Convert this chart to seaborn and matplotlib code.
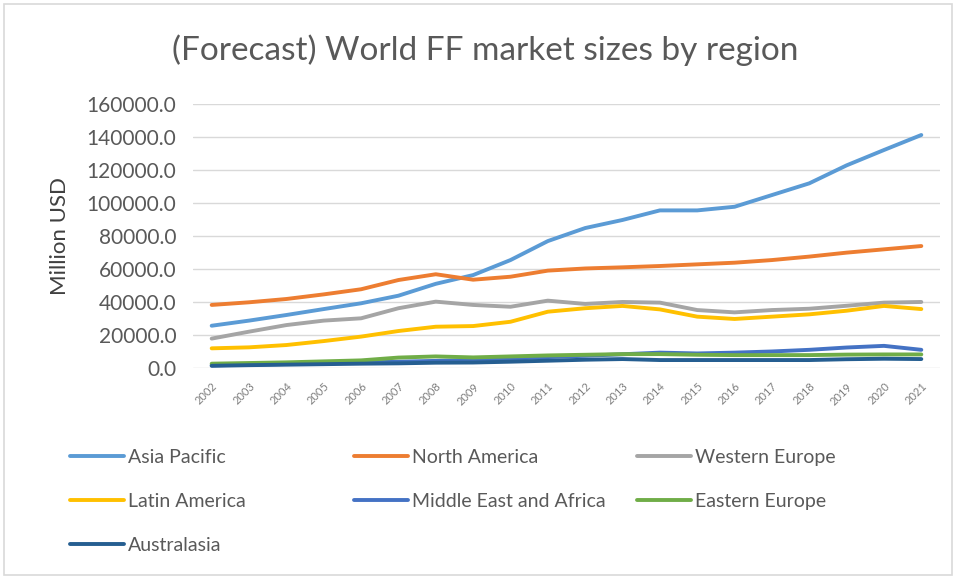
import matplotlib
matplotlib.use("Agg")
import matplotlib.pyplot as plt
import matplotlib.patches as mpatches
import numpy as np
import pandas as pd
import seaborn as sns

years = list(range(2002, 2022))

asia_pacific = [25800, 28900, 32300, 35900, 39400, 44000, 51200, 56500, 65600, 77100,
                85000, 89900, 95700, 95700, 97900, 105000, 112100, 123000, 132300, 141400]
north_america = [38400, 40000, 42000, 44800, 47900, 53500, 57000, 53700, 55500, 59200,
                 60500, 61200, 62000, 63000, 64000, 65600, 67700, 70100, 72100, 74100]
western_europe = [18000, 22200, 26200, 28900, 30300, 36400, 40400, 38400, 37300, 41000,
                  39000, 40200, 39800, 35300, 33900, 35300, 36100, 37900, 39800, 40200]
latin_america = [12100, 12700, 14100, 16500, 19200, 22600, 25200, 25600, 28200, 34300,
                 36400, 37800, 35700, 31300, 29900, 31300, 32700, 34900, 37800, 35900]
middle_east_africa = [1800, 2200, 2600, 3000, 3500, 4000, 4500, 5000, 5800, 6800,
                      7600, 8500, 9500, 9000, 9500, 10200, 11200, 12600, 13600, 11200]
eastern_europe = [2800, 3200, 3600, 4200, 4800, 6500, 7200, 6600, 7200, 7800,
                  8200, 8600, 8600, 8200, 8000, 8000, 8000, 8300, 8400, 8400]
australasia = [1500, 1900, 2200, 2500, 2800, 3000, 3400, 3500, 4000, 4600,
               5200, 5600, 5000, 5000, 5000, 5000, 5000, 5500, 5800, 5600]

regions = ["Asia Pacific", "North America", "Western Europe", "Latin America",
           "Middle East and Africa", "Eastern Europe", "Australasia"]
series = [asia_pacific, north_america, western_europe, latin_america,
          middle_east_africa, eastern_europe, australasia]
colors = ["#5B9BD5", "#ED7D31", "#A5A5A5", "#FFC000", "#4472C4", "#70AD47", "#255E91"]

y_ticks = [0, 20000, 40000, 60000, 80000, 100000, 120000, 140000, 160000]

df = pd.DataFrame(
    [(y, r, v) for r, vals in zip(regions, series) for y, v in zip(years, vals)],
    columns=["Year", "Region", "Value"],
)

sns.set_style("white")
plt.rcParams["font.family"] = ["Lato", "DejaVu Sans"]

text_gray = "#595959"
grid_gray = "#D9D9D9"

fig = plt.figure(figsize=(9.56, 5.78), dpi=100)
ax = fig.add_axes([193 / 956, 1 - 368.3 / 578, (940 - 193) / 956, (368.3 - 104.3) / 578])

sns.lineplot(data=df, x="Year", y="Value", hue="Region", hue_order=regions,
             palette=dict(zip(regions, colors)), linewidth=2.8, ax=ax, legend=False,
             solid_capstyle="round")

ax.set_xlim(years[0] - 0.5, years[-1] + 0.5)
ax.set_ylim(0, 160000)
ax.set_yticks(y_ticks)
ax.set_yticklabels([f"{v:.1f}" for v in y_ticks], fontsize=15, color=text_gray)
ax.set_xticks(years)
ax.set_xticklabels([str(y) for y in years], rotation=45, ha="right",
                   rotation_mode="anchor", fontsize=8, color="#7F7F7F")
ax.tick_params(axis="both", length=0)
ax.tick_params(axis="y", pad=12)
ax.tick_params(axis="x", pad=9)
ax.grid(axis="y", color=grid_gray, linewidth=1)
ax.set_axisbelow(True)
for s in ax.spines.values():
    s.set_visible(False)
ax.set_xlabel("")
ax.set_ylabel("Million USD", fontsize=16, color="#404040", labelpad=12)

fig.text(0.507, 1 - 50 / 578, "(Forecast) World FF market sizes by region",
         ha="center", va="center", fontsize=24, color=text_gray)

# legend laid out in three equal-width columns, filled row by row
handles = {r: plt.Line2D([], [], color=c, linewidth=2.8) for r, c in zip(regions, colors)}
columns = [["Asia Pacific", "Latin America", "Australasia"],
           ["North America", "Middle East and Africa"],
           ["Western Europe", "Eastern Europe"]]
col_x = [70 / 956, 354 / 956, 637 / 956]
for cx, names in zip(col_x, columns):
    leg = fig.legend([handles[n] for n in names], names, loc="upper left",
                     bbox_to_anchor=(cx, 1 - 449 / 578), frameon=False,
                     fontsize=14, handlelength=2.8, handletextpad=0.2,
                     labelspacing=1.38, borderaxespad=0, borderpad=0,
                     labelcolor=text_gray)

# light frame around the chart area
fig.patches.append(mpatches.Rectangle((4 / 956, 3 / 578), 948 / 956, 571 / 578,
                                      transform=fig.transFigure, fill=False,
                                      edgecolor=grid_gray, linewidth=1.2))

fig.savefig("out.png", dpi=100)
